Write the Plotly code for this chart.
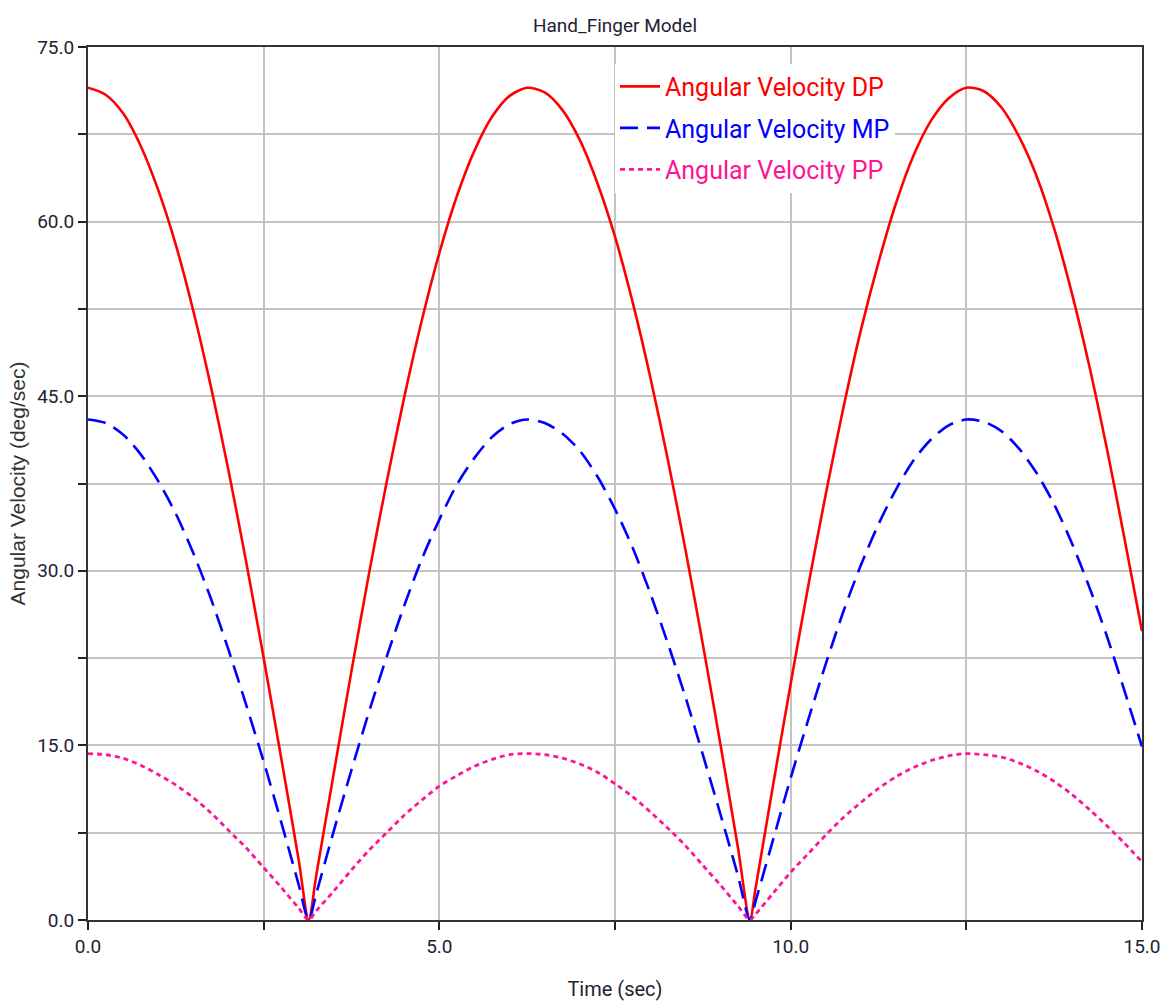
import plotly.graph_objects as go

time_s = [0.0, 0.25, 0.5, 0.75, 1.0, 1.25, 1.5, 1.75, 2.0, 2.25, 2.5, 2.75, 3.0,
          3.14,
          3.25, 3.5, 3.75, 4.0, 4.25, 4.5, 4.75, 5.0, 5.25, 5.5, 5.75, 6.0, 6.25,
          6.5, 6.75, 7.0, 7.25, 7.5, 7.75, 8.0, 8.25, 8.5, 8.75, 9.0, 9.25,
          9.42,
          9.5, 9.75, 10.0, 10.25, 10.5, 10.75, 11.0, 11.25, 11.5, 11.75, 12.0,
          12.25, 12.5, 12.75, 13.0, 13.25, 13.5, 13.75, 14.0, 14.25, 14.5, 14.75, 15.0]

vel_dp = [71.5, 70.9, 69.3, 66.5, 62.7, 58.0, 52.3, 45.8, 38.6, 30.8, 22.5, 13.9, 5.1,
          0.0,
          3.9, 12.7, 21.4, 29.8, 37.6, 44.9, 51.5, 57.3, 62.2, 66.1, 69.0, 70.8, 71.5,
          71.1, 69.6, 67.0, 63.3, 58.7, 53.1, 46.7, 39.6, 31.9, 23.7, 15.1, 6.2,
          0.0,
          2.7, 11.6, 20.3, 28.7, 36.6, 44.0, 50.7, 56.5, 61.6, 65.7, 68.7,
          70.6, 71.5, 71.2, 69.8, 67.3, 63.9, 59.4, 53.9, 47.6, 40.5, 32.8, 24.8]

vel_mp = [43.0, 42.7, 41.7, 40.0, 37.7, 34.9, 31.5, 27.6, 23.2, 18.5, 13.6, 8.4, 3.0,
          0.0,
          2.3, 7.7, 12.9, 17.9, 22.6, 27.0, 31.0, 34.4, 37.4, 39.7, 41.5, 42.6, 43.0,
          42.7, 41.8, 40.3, 38.1, 35.3, 32.0, 28.1, 23.8, 19.2, 14.2, 9.1, 3.8,
          0.0,
          1.6, 6.9, 12.2, 17.2, 22.0, 26.5, 30.5, 34.0, 37.0, 39.5, 41.3,
          42.5, 43.0, 42.8, 42.0, 40.5, 38.4, 35.7, 32.4, 28.6, 24.4, 19.7, 14.9]

vel_pp = [14.3, 14.2, 13.9, 13.3, 12.5, 11.6, 10.5, 9.2, 7.7, 6.2, 4.5, 2.8, 1.0,
          0.0,
          0.8, 2.5, 4.3, 6.0, 7.5, 9.0, 10.3, 11.5, 12.4, 13.2, 13.8, 14.2, 14.3,
          14.2, 13.9, 13.4, 12.7, 11.7, 10.6, 9.3, 7.9, 6.4, 4.7, 3.0, 1.2,
          0.0,
          0.5, 2.3, 4.1, 5.7, 7.3, 8.8, 10.1, 11.3, 12.3, 13.1, 13.7,
          14.1, 14.3, 14.2, 14.0, 13.5, 12.8, 11.9, 10.8, 9.5, 8.1, 6.6, 5.0]

series_names = ["Angular Velocity DP", "Angular Velocity MP", "Angular Velocity PP"]
series_colors = ["#FF0000", "#0000FF", "#FF1493"]

x_tickvals = [0, 2.5, 5, 7.5, 10, 12.5, 15]
x_ticktext = ["0.0", "", "5.0", "", "10.0", "", "15.0"]
y_tickvals = [0, 7.5, 15, 22.5, 30, 37.5, 45, 52.5, 60, 67.5, 75]
y_ticktext = ["0.0", "", "15.0", "", "30.0", "", "45.0", "", "60.0", "", "75.0"]

NARROW = "Roboto, Liberation Sans, Arial, sans-serif"

fig = go.Figure()
dashes = ["solid", "18px,9px", "5px,4px"]
widths = [2.6, 2.6, 2.8]
for i, (ys, name, col) in enumerate(zip([vel_dp, vel_mp, vel_pp], series_names, series_colors)):
    fig.add_trace(go.Scatter(
        x=time_s, y=ys, mode="lines",
        name=f'<span style="color:{col}">{name}</span>',
        line=dict(color=col, width=widths[i], dash=dashes[i], shape="spline", smoothing=0.8),
        legendgroup=f"g{i}",
    ))

axis_common = dict(
    showgrid=True, gridcolor="#C4C4C4", gridwidth=1.5,
    showline=True, linecolor="#333333", linewidth=2, mirror=True,
    ticks="outside", ticklen=8, tickwidth=1.5, tickcolor="#222222",
    tickfont=dict(family=NARROW, size=19, color="#222233"),
    zeroline=False, automargin=False,
)

fig.update_layout(
    width=1171, height=1005,
    margin=dict(l=88, r=29, t=47, b=85),
    paper_bgcolor="white", plot_bgcolor="white",
    title=dict(text="Hand_Finger Model", xref="paper", x=0.5, xanchor="center",
               yref="container", y=0.975, yanchor="middle",
               font=dict(family=NARROW, size=19, color="#222233")),
    xaxis=dict(range=[0, 15], tickvals=x_tickvals, ticktext=x_ticktext,
               title=dict(text="Time (sec)", font=dict(family=NARROW, size=20, color="#222233"), standoff=25),
               **axis_common),
    yaxis=dict(range=[0, 75], tickvals=y_tickvals, ticktext=y_ticktext,
               title=dict(text="Angular Velocity (deg/sec)", font=dict(family="Liberation Sans, Arial, sans-serif", size=21, color="#333333"), standoff=6),
               **axis_common),
    legend=dict(x=0.5, y=0.981, xanchor="left", yanchor="top",
                bgcolor="white", borderwidth=0,
                font=dict(family=NARROW, size=25),
                tracegroupgap=6, itemwidth=40),
    showlegend=True,
)

fig.write_html("out.html", config={"displayModeBar": False},
               post_script="document.body.style.margin='0';document.body.style.overflow='hidden';")
